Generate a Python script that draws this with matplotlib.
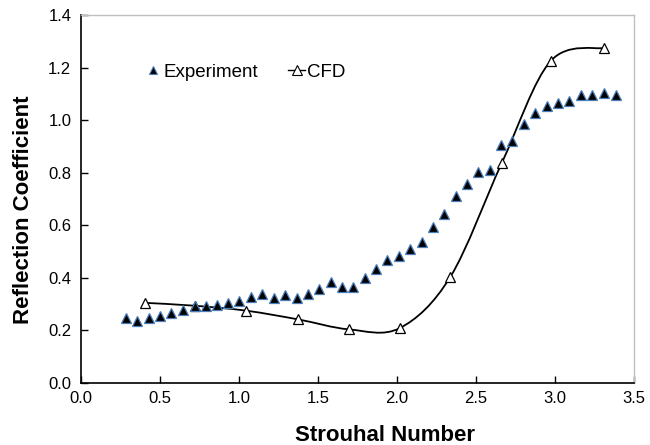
import matplotlib
matplotlib.use("Agg")
import matplotlib.pyplot as plt
from matplotlib.path import Path
from matplotlib.patches import PathPatch
from matplotlib.lines import Line2D
import numpy as np

plt.rcParams['font.family'] = ['Liberation Sans', 'DejaVu Sans']

# Experiment data
exp_st = [0.286, 0.357, 0.428, 0.502, 0.572, 0.643, 0.719, 0.789, 0.860, 0.932,
          1.003, 1.073, 1.147, 1.222, 1.294, 1.368, 1.435, 1.509, 1.582, 1.654,
          1.720, 1.797, 1.867, 1.938, 2.012, 2.084, 2.157, 2.229, 2.300, 2.372,
          2.444, 2.515, 2.589, 2.658, 2.730, 2.804, 2.876, 2.947, 3.018, 3.088,
          3.162, 3.233, 3.307, 3.383]
exp_rc = [0.246, 0.236, 0.247, 0.254, 0.265, 0.279, 0.294, 0.292, 0.298, 0.303,
          0.311, 0.326, 0.337, 0.325, 0.335, 0.325, 0.337, 0.359, 0.384, 0.365,
          0.364, 0.399, 0.434, 0.469, 0.484, 0.511, 0.538, 0.593, 0.643, 0.711,
          0.756, 0.803, 0.810, 0.904, 0.922, 0.986, 1.027, 1.054, 1.064, 1.072,
          1.097, 1.097, 1.104, 1.097]

# CFD data
cfd_st = [0.403, 0.719, 1.047, 1.374, 1.696, 2.018, 2.338, 2.664, 2.973, 3.313]
cfd_rc = [0.305, 0.294, 0.275, 0.242, 0.204, 0.209, 0.404, 0.838, 1.225, 1.275]

x_ticks = [0.0, 0.5, 1.0, 1.5, 2.0, 2.5, 3.0, 3.5]
y_ticks = [0.0, 0.2, 0.4, 0.6, 0.8, 1.0, 1.2, 1.4]

fig = plt.figure(figsize=(6.5, 4.45), dpi=100)
W, H = 650, 445
ax = fig.add_axes([81 / W, 1 - 383 / H, (634 - 81) / W, (383 - 15) / H])

# Smoothed line (Catmull-Rom style Bezier, like spreadsheet smoothing)
P = np.column_stack([cfd_st, cfd_rc])
n = len(P)
verts = [tuple(P[0])]
codes = [Path.MOVETO]
for i in range(n - 1):
    p_prev = P[i - 1] if i > 0 else P[i]
    p_next2 = P[i + 2] if i + 2 < n else P[i + 1]
    c1 = P[i] + (P[i + 1] - p_prev) / 6.0
    c2 = P[i + 1] - (p_next2 - P[i]) / 6.0
    verts += [tuple(c1), tuple(c2), tuple(P[i + 1])]
    codes += [Path.CURVE4] * 3
ax.add_patch(PathPatch(Path(verts, codes), facecolor='none', edgecolor='black',
                       lw=1.3, zorder=2))

ax.plot(cfd_st, cfd_rc, linestyle='none', marker='^', ms=7.5, mfc='white',
        mec='black', mew=0.9, zorder=3)
ax.plot(exp_st, exp_rc, linestyle='none', marker='^', ms=6.5, mfc='black',
        mec='#4a7ebb', mew=0.9, zorder=4)

ax.set_xlim(0, 3.5)
ax.set_ylim(0, 1.4)
ax.set_xticks(x_ticks)
ax.set_yticks(y_ticks)
ax.set_xticklabels([f"{v:.1f}" for v in x_ticks])
ax.set_yticklabels([f"{v:.1f}" for v in y_ticks])
ax.tick_params(axis='both', direction='in', length=5, width=1, labelsize=12,
               colors='black')
ax.tick_params(axis='y', pad=7)
ax.tick_params(axis='x', pad=6)

for s in ['left', 'bottom']:
    ax.spines[s].set_color('black')
    ax.spines[s].set_linewidth(1.2)
for s in ['top', 'right']:
    ax.spines[s].set_color('#c0c0c0')
    ax.spines[s].set_linewidth(1.0)

ax.set_xlabel('Strouhal Number', fontsize=16, fontweight='bold')
ax.set_ylabel('Reflection Coefficient', fontsize=16, fontweight='bold')
ax.xaxis.set_label_coords(0.55, -0.115)
ax.yaxis.set_label_coords(-0.085, 0.47)

h_exp = Line2D([], [], linestyle='none', marker='^', ms=5.5, mfc='black',
               mec='#4a7ebb', mew=0.8)
h_cfd = Line2D([], [], color='black', lw=1.0, marker='^', ms=6.5, mfc='white',
               mec='black', mew=0.8)
ax.legend([h_exp, h_cfd], ['Experiment', 'CFD'], ncol=2, frameon=False,
          loc='center left', bbox_to_anchor=(145 / W, 1 - 72 / H),
          bbox_transform=fig.transFigure, fontsize=13.5, handlelength=0.9,
          handletextpad=0.1, columnspacing=1.6, borderpad=0, borderaxespad=0)

fig.savefig('out.png', dpi=100)
